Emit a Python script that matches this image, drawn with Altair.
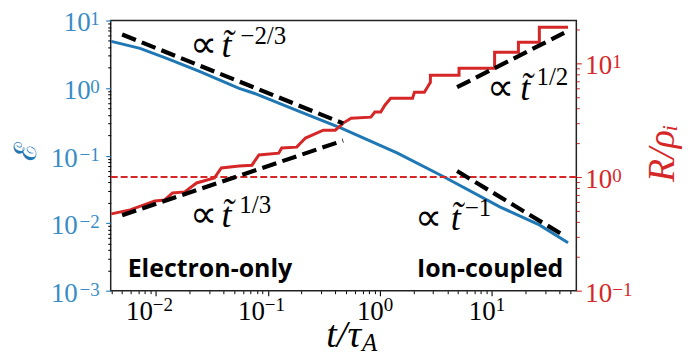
import altair as alt
import pandas as pd

# ---------------- data ----------------
t_energy = [0.0040, 0.00722, 0.0125, 0.0245, 0.0554, 0.0752, 0.188, 0.452, 1.44, 3.76, 11.8, 26.6, 48.0]
energy = [4.90, 3.86, 2.75, 1.77, 0.99, 0.837, 0.454, 0.255, 0.109, 0.0482, 0.0174, 0.00942, 0.00511]

t_radius = [0.0040, 0.00589, 0.0098, 0.0120, 0.0141, 0.0181, 0.0231, 0.0333, 0.0384, 0.0554,
            0.0721, 0.0832, 0.125, 0.133, 0.181, 0.217, 0.313, 0.400, 0.452, 0.471,
            0.554, 0.832, 0.903, 1.02, 1.11, 1.25, 1.96, 2.04, 2.50, 2.66,
            2.83, 2.83, 5.10, 5.10, 10.6, 10.6, 17.3, 17.3, 26.6, 26.6, 48.0]
radius = [0.474, 0.514, 0.616, 0.628, 0.724, 0.739, 0.886, 0.980, 1.20, 1.25,
          1.27, 1.56, 1.62, 1.80, 1.83, 2.20, 2.58, 2.58, 2.86, 2.98,
          3.29, 3.36, 3.72, 3.72, 4.28, 4.93, 4.93, 5.57, 5.57, 6.15,
          6.81, 7.85, 7.85, 9.04, 9.04, 12.5, 12.5, 15.3, 15.3, 20.7, 20.7]

fit_energy_t = [[0.0050, 0.471], [4.90, 44.3]]
fit_energy_v = [[6.21, 0.300], [0.059, 0.00653]]
fit_radius_t = [[0.0050, 0.47], [4.90, 44.3]]
fit_radius_v = [[0.46, 2.09], [6.16, 18.5]]
radius_ref = [1.0]

# tick values and their labels (10^exponent)
x_major = [0.01, 0.1, 1, 10]
x_exp = ["\u22122", "\u22121", "0", "1"]
x_minor = [m * d for d in [0.001, 0.01, 0.1, 1, 10] for m in range(2, 10) if 0.0039 < m * d < 57]
yl_major = [0.001, 0.01, 0.1, 1, 10]
yl_exp = ["\u22123", "\u22122", "\u22121", "0", "1"]
yl_minor = [m * d for d in [0.001, 0.01, 0.1, 1] for m in range(2, 10)]
yr_major = [0.1, 1, 10]
yr_exp = ["\u22121", "0", "1"]
yr_minor = [m * d for d in [0.1, 1, 10] for m in range(2, 10) if m * d < 23.8]

# annotations (anchor positions in data coordinates)
prop_t = [0.0200, 0.0200, 8.99, 2.05]
prop_v = [2.84, 0.00880, 0.659, 0.00795]
tt_t = [0.0385, 0.0385, 18.0, 4.30]
sup_text = ["\u22122/3", "1/3", "1/2", "\u22121"]
sup_t = [0.0568, 0.0556, 25.06, 5.73]
sup_v = [4.42, 0.01416, 1.098, 0.01281]
regime_text = ["Electron-only", "Ion-coupled"]
regime_t = [0.00560, 43.6]
regime_v = [0.00161, 0.00161]

BLUE = "#1f77b4"
BLUE_L = "#3a8cc4"
RED = "#d62728"
SERIF = "Liberation Serif"
FS_BASE = 27
FS_EXP = 19
H = 271
W = 467

xs = alt.Scale(type="log", domain=[0.00395, 56.9], nice=False)
ysl = alt.Scale(type="log", domain=[0.001, 10], nice=False)
ysr = alt.Scale(type="log", domain=[0.1, 23.8], nice=False)

tick_common = dict(labels=False, domain=False, grid=False, title=None)
x_axis = alt.Axis(orient="bottom", values=x_major, tickColor="black", tickSize=5, tickWidth=1.1,
                  **tick_common)
x_axis_m = alt.Axis(orient="bottom", values=x_minor, tickColor="black", tickSize=3, tickWidth=1.0,
                    **tick_common)
yl_axis = alt.Axis(orient="left", values=yl_major, tickColor=BLUE, tickSize=5, tickWidth=1.1,
                   **tick_common)
yl_axis_m = alt.Axis(orient="left", values=yl_minor, tickColor="black", tickSize=3, tickWidth=1.0,
                     **tick_common)
yr_axis = alt.Axis(orient="right", values=yr_major, tickColor=RED, tickSize=5, tickWidth=1.1,
                   **tick_common)
yr_axis_m = alt.Axis(orient="right", values=yr_minor, tickColor=RED, tickSize=3, tickWidth=1.0,
                     **tick_common)

df_e = pd.DataFrame({"t": t_energy, "v": energy})
df_r = pd.DataFrame({"t": t_radius, "v": radius, "i": list(range(len(t_radius)))})

rows = []
for k, (ts, vs) in enumerate(zip(fit_energy_t, fit_energy_v)):
    for a, b in zip(ts, vs):
        rows.append({"t": a, "v": b, "g": k})
df_fe = pd.DataFrame(rows)
rows = []
for k, (ts, vs) in enumerate(zip(fit_radius_t, fit_radius_v)):
    for a, b in zip(ts, vs):
        rows.append({"t": a, "v": b, "g": k})
df_fr = pd.DataFrame(rows)

blue = alt.Chart(df_e).mark_line(color=BLUE, strokeWidth=3).encode(
    x=alt.X("t:Q", scale=xs, axis=x_axis),
    y=alt.Y("v:Q", scale=ysl, axis=yl_axis))
fit_e = alt.Chart(df_fe).mark_line(color="black", strokeWidth=4.2, strokeDash=[14.8, 6.4]).encode(
    x=alt.X("t:Q", scale=xs, axis=x_axis_m),
    y=alt.Y("v:Q", scale=ysl, axis=yl_axis_m),
    detail="g:N")

df_ref = pd.DataFrame({"v": radius_ref})
ref = alt.Chart(df_ref).mark_rule(color=RED, strokeWidth=1.8, strokeDash=[7, 3]).encode(
    y=alt.Y("v:Q", scale=ysr, axis=None))
red = alt.Chart(df_r).mark_line(color=RED, strokeWidth=3).encode(
    x=alt.X("t:Q", scale=xs, axis=None),
    y=alt.Y("v:Q", scale=ysr, axis=yr_axis),
    order="i:Q")
fit_r = alt.Chart(df_fr).mark_line(color="black", strokeWidth=4.2, strokeDash=[14.8, 6.4]).encode(
    x=alt.X("t:Q", scale=xs, axis=None),
    y=alt.Y("v:Q", scale=ysr, axis=yr_axis_m),
    detail="g:N")


def txt(df, scale_y=None, **kw):
    enc = {}
    if "t" in df:
        enc["x"] = alt.X("t:Q", scale=xs, axis=None)
    if "v" in df:
        enc["y"] = alt.Y("v:Q", scale=scale_y, axis=None)
    return alt.Chart(df).mark_text(**kw).encode(text="s:N", **enc)


# ---- annotations
ann = [
    txt(pd.DataFrame({"t": prop_t, "v": prop_v, "s": ["\u221d"] * 4}), ysl,
        font=SERIF, fontSize=38, align="left", baseline="alphabetic", color="black"),
    txt(pd.DataFrame({"t": tt_t, "v": prop_v, "s": ["t\u0303"] * 4}), ysl,
        font=SERIF, fontSize=36, fontStyle="italic", align="left", baseline="alphabetic",
        color="black"),
    txt(pd.DataFrame({"t": sup_t, "v": sup_v, "s": sup_text}), ysl,
        font=SERIF, fontSize=25, align="left", baseline="alphabetic", color="black"),
    txt(pd.DataFrame({"t": regime_t[:1], "v": regime_v[:1], "s": regime_text[:1]}), ysl,
        font="Open Sans", fontWeight="bold", fontSize=25, align="left", baseline="alphabetic",
        color="black"),
    txt(pd.DataFrame({"t": regime_t[1:], "v": regime_v[1:], "s": regime_text[1:]}), ysl,
        font="Open Sans", fontWeight="bold", fontSize=25, align="right", baseline="alphabetic",
        color="black"),
]

# ---- tick labels "10" + superscript exponent
labels = []
xneg = [i for i, e in enumerate(x_exp) if e.startswith("\u2212")]
xpos = [i for i, e in enumerate(x_exp) if not e.startswith("\u2212")]
for idx, dx in ((xneg, -3), (xpos, 4)):
    tt = [x_major[i] for i in idx]
    labels.append(txt(pd.DataFrame({"t": tt, "s": ["10"] * len(tt)}), font=SERIF,
                      fontSize=FS_BASE, align="right", baseline="alphabetic", dx=dx,
                      color="black").encode(y=alt.value(H + 29)))
    labels.append(txt(pd.DataFrame({"t": tt, "s": [x_exp[i] for i in idx]}), font=SERIF,
                      fontSize=FS_EXP, align="left", baseline="alphabetic", dx=dx,
                      color="black").encode(y=alt.value(H + 20)))

ylneg = [i for i, e in enumerate(yl_exp) if e.startswith("\u2212")]
ylpos = [i for i, e in enumerate(yl_exp) if not e.startswith("\u2212")]
for idx, xb in ((ylneg, -33), (ylpos, -20)):
    vv = [yl_major[i] for i in idx]
    labels.append(txt(pd.DataFrame({"v": vv, "s": ["10"] * len(vv)}), ysl, font=SERIF,
                      fontSize=FS_BASE, align="right", baseline="alphabetic", dy=11,
                      color=BLUE_L).encode(x=alt.value(xb)))
labels.append(txt(pd.DataFrame({"v": yl_major, "s": yl_exp}), ysl, font=SERIF, fontSize=FS_EXP,
                  align="right", baseline="alphabetic", dy=5, color=BLUE_L).encode(
    x=alt.value(-11)))
labels.append(txt(pd.DataFrame({"v": yr_major, "s": ["10"] * len(yr_major)}), ysr, font=SERIF,
                  fontSize=FS_BASE, align="left", baseline="alphabetic", dy=11,
                  color=RED).encode(x=alt.value(W + 9)))
labels.append(txt(pd.DataFrame({"v": yr_major, "s": yr_exp}), ysr, font=SERIF, fontSize=FS_EXP,
                  align="left", baseline="alphabetic", dy=5, color=RED).encode(
    x=alt.value(W + 36)))

# ---- axis titles
one = pd.DataFrame({"s": ["x"]})
title_l = alt.Chart(one).mark_text(text="\u2130", font="DejaVu Serif", fontSize=31, angle=270,
                                   align="center", baseline="alphabetic", color=BLUE).encode(
    x=alt.value(-75), y=alt.value(131))
title_x = alt.Chart(one).mark_text(text="t/\u03c4", font=SERIF, fontSize=38, fontStyle="italic",
                                   align="right", baseline="alphabetic", color="black").encode(
    x=alt.value(251), y=alt.value(327))
title_xs = alt.Chart(one).mark_text(text="A", font=SERIF, fontSize=25, fontStyle="italic",
                                    align="left", baseline="alphabetic", color="black").encode(
    x=alt.value(252), y=alt.value(331))
title_r = alt.Chart(one).mark_text(text="R/\u03c1\u1d62", font=SERIF, fontSize=38,
                                   fontStyle="italic", angle=270, align="center",
                                   baseline="middle", color=RED).encode(
    x=alt.value(554), y=alt.value(133))

chart = alt.layer(
    blue, ref, red, fit_e, fit_r, *ann, *labels,
    title_l, title_x, title_xs, title_r,
).resolve_scale(y="independent").resolve_axis(x="independent", y="independent").properties(
    width=W, height=H,
    padding={"left": 103, "top": 12, "right": 110, "bottom": 65},
    autosize=alt.AutoSizeParams(type="none"),
).configure_view(stroke="#222", strokeWidth=1.5)

chart.save("out.html", embed_options={"renderer": "svg", "actions": False})
